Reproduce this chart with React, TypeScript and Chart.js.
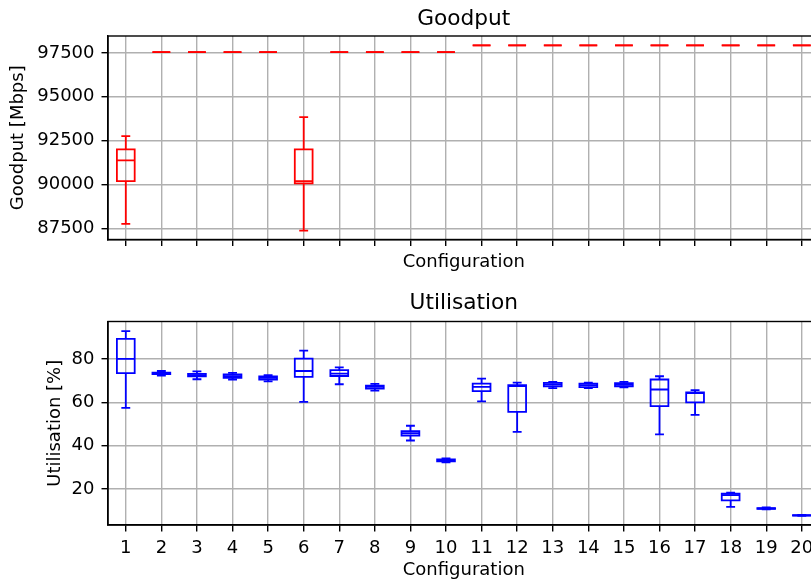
import React, { useEffect, useRef } from "react";
import { Chart, registerables } from "chart.js";

Chart.register(...registerables);

const configs = [1, 2, 3, 4, 5, 6, 7, 8, 9, 10, 11, 12, 13, 14, 15, 16, 17, 18, 19, 20];

// Goodput [Mbps] box statistics
const gpLow = [87745, 97540, 97540, 97540, 97540, 87363, 97540, 97540, 97540, 97540, 97920, 97920, 97920, 97920, 97920, 97920, 97920, 97920, 97920, 97920];
const gpQ1 = [90188, 97540, 97540, 97540, 97540, 90057, 97540, 97540, 97540, 97540, 97920, 97920, 97920, 97920, 97920, 97920, 97920, 97920, 97920, 97920];
const gpMed = [91367, 97540, 97540, 97540, 97540, 90188, 97540, 97540, 97540, 97540, 97920, 97920, 97920, 97920, 97920, 97920, 97920, 97920, 97920, 97920];
const gpQ3 = [91993, 97540, 97540, 97540, 97540, 91993, 97540, 97540, 97540, 97540, 97920, 97920, 97920, 97920, 97920, 97920, 97920, 97920, 97920, 97920];
const gpHigh = [92750, 97540, 97540, 97540, 97540, 93833, 97540, 97540, 97540, 97540, 97920, 97920, 97920, 97920, 97920, 97920, 97920, 97920, 97920, 97920];
const gpTicks = [87500, 90000, 92500, 95000, 97500];

// Utilisation [%] box statistics
const uLow = [57.4, 72.3, 70.6, 70.5, 69.6, 60.2, 68.3, 65.4, 42.4, 32.3, 60.4, 46.4, 66.5, 66.5, 66.9, 45.2, 54.2, 11.8, 10.7, 7.7];
const uQ1 = [73.4, 73.0, 71.9, 71.2, 70.5, 71.7, 72.1, 66.3, 44.7, 32.8, 65.1, 55.6, 67.3, 67.0, 67.3, 58.2, 60.0, 14.8, 10.9, 7.8];
const uMed = [80.0, 73.3, 72.5, 72.0, 71.2, 74.4, 73.2, 67.1, 45.8, 33.2, 67.1, 67.5, 68.2, 67.9, 68.0, 65.9, 64.2, 17.3, 11.1, 7.9];
const uQ3 = [89.2, 73.6, 73.1, 72.8, 71.9, 80.1, 74.8, 67.7, 46.7, 33.7, 68.6, 67.9, 68.9, 68.6, 68.8, 70.5, 64.5, 17.9, 11.3, 8.0];
const uHigh = [92.8, 74.4, 74.2, 73.5, 72.5, 83.8, 76.1, 68.5, 49.2, 34.2, 70.9, 69.1, 69.4, 69.0, 69.4, 72.0, 65.6, 18.4, 11.6, 8.1];
const uTicks = [20, 40, 60, 80];

const FONT = "'DejaVu Sans', sans-serif";
const LW = 1.8;

const boxPlugin = {
  id: "boxes",
  afterDatasetsDraw(chart: any, _args: any, opts: any) {
    const { ctx, chartArea } = chart;
    const xs = chart.scales.x;
    const ys = chart.scales.y;
    ctx.save();
    ctx.beginPath();
    ctx.rect(chartArea.left, chartArea.top, chartArea.right - chartArea.left, chartArea.bottom - chartArea.top);
    ctx.clip();
    ctx.strokeStyle = opts.color;
    ctx.lineWidth = LW;
    ctx.lineCap = "butt";
    configs.forEach((c, i) => {
      const xl = xs.getPixelForValue(c - 0.25);
      const xr = xs.getPixelForValue(c + 0.25);
      const xc = xs.getPixelForValue(c);
      const cl = xs.getPixelForValue(c - 0.125);
      const cr = xs.getPixelForValue(c + 0.125);
      const yLow = ys.getPixelForValue(opts.low[i]);
      const yQ1 = ys.getPixelForValue(opts.q1[i]);
      const yMed = ys.getPixelForValue(opts.med[i]);
      const yQ3 = ys.getPixelForValue(opts.q3[i]);
      const yHigh = ys.getPixelForValue(opts.high[i]);
      ctx.beginPath();
      ctx.moveTo(xc, yQ1);
      ctx.lineTo(xc, yLow);
      ctx.moveTo(xc, yQ3);
      ctx.lineTo(xc, yHigh);
      ctx.moveTo(cl, yLow);
      ctx.lineTo(cr, yLow);
      ctx.moveTo(cl, yHigh);
      ctx.lineTo(cr, yHigh);
      ctx.moveTo(xl, yMed);
      ctx.lineTo(xr, yMed);
      ctx.stroke();
      ctx.beginPath();
      ctx.moveTo(xl, yQ1);
      ctx.lineTo(xr, yQ1);
      ctx.lineTo(xr, yQ3);
      ctx.lineTo(xl, yQ3);
      ctx.closePath();
      ctx.stroke();
    });
    ctx.restore();
  },
};

const framePlugin = {
  id: "frame",
  afterDraw(chart: any) {
    const { ctx, chartArea } = chart;
    ctx.save();
    ctx.strokeStyle = "#000";
    ctx.lineWidth = 1.4;
    ctx.strokeRect(chartArea.left, chartArea.top, chartArea.right - chartArea.left, chartArea.bottom - chartArea.top);
    ctx.restore();
  },
};

function makeOptions(p: any) {
  return {
    animation: false,
    responsive: false,
    devicePixelRatio: 1,
    layout: { padding: { left: 0, right: 20.4, top: 0, bottom: 0 } },
    plugins: {
      legend: { display: false },
      tooltip: { enabled: false },
      title: {
        display: true,
        text: p.title,
        fullSize: false,
        color: "#000",
        font: { family: FONT, size: 21.7, weight: "normal" },
        padding: p.titlePad,
      },
      boxes: { color: p.color, low: p.low, q1: p.q1, med: p.med, q3: p.q3, high: p.high },
    },
    scales: {
      x: {
        type: "linear",
        min: 0.5,
        max: 20.5,
        afterBuildTicks: (s: any) => {
          s.ticks = configs.map((v) => ({ value: v }));
        },
        afterFit: (s: any) => {
          s.height = p.xHeight;
        },
        ticks: {
          display: p.showXLabels,
          color: "#000",
          padding: 6,
          maxRotation: 0,
          autoSkip: false,
          font: { family: FONT, size: 18 },
          callback: (v: any) => String(v),
        },
        grid: {
          color: "#b0b0b0",
          lineWidth: 1.4,
          tickColor: "#000",
          tickWidth: 1.4,
          tickLength: 6.5,
          drawTicks: true,
        },
        border: { color: "#000", width: 1.4 },
        title: {
          display: true,
          text: "Configuration",
          color: "#000",
          font: { family: FONT, size: 18 },
          padding: { top: 0, bottom: p.xTitlePadBottom },
        },
      },
      y: {
        type: "linear",
        min: p.yMin,
        max: p.yMax,
        afterBuildTicks: (s: any) => {
          s.ticks = p.yTicks.map((v: number) => ({ value: v }));
        },
        afterFit: (s: any) => {
          s.width = 108;
        },
        ticks: {
          color: "#000",
          padding: 7,
          font: { family: FONT, size: 18 },
          callback: (v: any) => String(v),
        },
        grid: {
          color: "#b0b0b0",
          lineWidth: 1.4,
          tickColor: "#000",
          tickWidth: 1.4,
          tickLength: 6.5,
        },
        border: { color: "#000", width: 1.4 },
        title: {
          display: true,
          text: p.yTitle,
          color: "#000",
          font: { family: FONT, size: 18 },
          padding: { top: p.yTitlePadTop, bottom: 0 },
        },
      },
    },
  };
}

function BoxChart(props: { top: number; height: number; opts: any; med: number[] }) {
  const ref = useRef<HTMLCanvasElement | null>(null);
  useEffect(() => {
    if (!ref.current) return;
    const chart = new Chart(ref.current, {
      type: "scatter",
      data: {
        datasets: [
          {
            data: configs.map((c, i) => ({ x: c, y: props.med[i] })),
            pointRadius: 0,
            showLine: false,
          },
        ],
      },
      options: props.opts,
      plugins: [boxPlugin, framePlugin],
    } as any);
    return () => chart.destroy();
  }, []);
  return (
    <canvas
      ref={ref}
      width={840}
      height={props.height}
      style={{ position: "absolute", left: 0, top: props.top, width: 840, height: props.height }}
    />
  );
}

export default function App() {
  const topOpts = makeOptions({
    title: "Goodput",
    titlePad: { top: 6.5, bottom: 3.46 },
    yTitle: "Goodput [Mbps]",
    yTitlePadTop: 8,
    yMin: 86860,
    yMax: 98460,
    yTicks: gpTicks,
    showXLabels: false,
    xHeight: 40.5,
    xTitlePadBottom: 7.2,
    color: "#ff0000",
    low: gpLow,
    q1: gpQ1,
    med: gpMed,
    q3: gpQ3,
    high: gpHigh,
  });
  const botOpts = makeOptions({
    title: "Utilisation",
    titlePad: { top: 10, bottom: 5.46 },
    yTitle: "Utilisation [%]",
    yTitlePadTop: 44.5,
    yMin: 3.5,
    yMax: 97.2,
    yTicks: uTicks,
    showXLabels: true,
    xHeight: 58,
    xTitlePadBottom: 1.5,
    color: "#0000ff",
    low: uLow,
    q1: uQ1,
    med: uMed,
    q3: uQ3,
    high: uHigh,
  });
  return (
    <div
      style={{
        position: "fixed",
        left: 0,
        top: 0,
        width: 811,
        height: 583,
        overflow: "hidden",
        background: "#fff",
      }}
    >
      <BoxChart top={0} height={280} opts={topOpts} med={gpMed} />
      <BoxChart top={280} height={303} opts={botOpts} med={uMed} />
    </div>
  );
}
